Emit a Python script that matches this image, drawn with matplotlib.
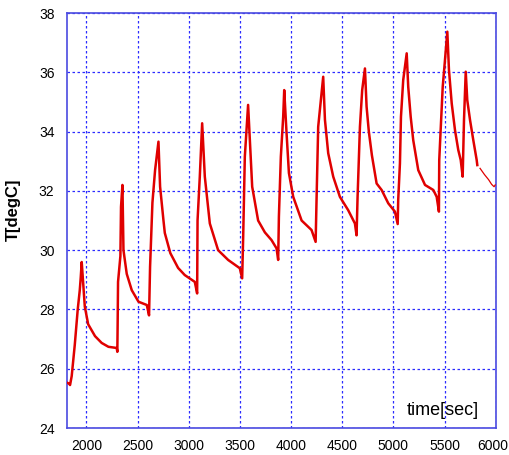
import matplotlib
matplotlib.use("Agg")
import matplotlib.pyplot as plt
import matplotlib.transforms as mtransforms

# temperature trace (time in sec, T in degC)
time_sec = [1810, 1830, 1840, 1856, 1886, 1915, 1935, 1944, 1954, 1962, 1984, 2017,
            2084, 2149, 2215, 2296, 2302,
            2305, 2309, 2332, 2338, 2352, 2362, 2394, 2443, 2509, 2590, 2612,
            2622, 2645, 2671, 2704, 2720, 2753, 2766, 2820, 2896, 2961, 3059, 3082,
            3086, 3108, 3131, 3157, 3206, 3287, 3385, 3499, 3522,
            3532, 3548, 3580, 3620, 3678, 3744, 3809, 3858, 3874,
            3881, 3900, 3923, 3933, 3956, 3979, 4021, 4103, 4200, 4240,
            4249, 4265, 4314, 4331, 4363, 4412, 4477, 4558, 4624, 4640,
            4650, 4673, 4695, 4722, 4738, 4760, 4790, 4803, 4836, 4885, 4950, 5015, 5042,
            5047, 5064, 5074, 5096, 5130, 5145, 5169, 5194, 5243, 5309, 5390, 5423, 5445,
            5448, 5465, 5482, 5504, 5527, 5543, 5570, 5602, 5634, 5658, 5677,
            5690, 5707, 5722, 5749, 5781, 5814, 5820]
temp_degc = [25.53, 25.50, 25.45, 25.75, 26.80, 28.00, 28.65, 29.06, 29.60, 29.20, 28.10, 27.50,
             27.10, 26.87, 26.74, 26.70, 26.57,
             27.47, 28.93, 29.80, 31.46, 32.20, 30.00, 29.20, 28.65, 28.26, 28.15, 27.80,
             29.44, 31.60, 32.70, 33.66, 32.14, 31.00, 30.58, 29.90, 29.40, 29.16, 28.93, 28.54,
             31.00, 32.48, 34.28, 32.48, 30.90, 30.00, 29.67, 29.39, 29.05,
             30.45, 33.15, 34.90, 32.14, 31.00, 30.60, 30.34, 30.06, 29.67,
             31.13, 33.15, 34.50, 35.40, 33.94, 32.60, 31.80, 31.00, 30.68, 30.28,
             31.70, 34.16, 35.85, 34.40, 33.27, 32.48, 31.80, 31.35, 30.90, 30.50,
             31.80, 34.16, 35.40, 36.13, 34.84, 34.00, 33.20, 32.93, 32.25, 32.03, 31.58, 31.30, 30.88,
             31.69, 32.93, 34.50, 35.74, 36.64, 35.51, 34.50, 33.71, 32.70, 32.20, 32.03, 31.80, 31.30,
             33.04, 34.28, 35.51, 36.41, 37.37, 36.08, 34.95, 34.05, 33.38, 33.04, 32.48,
             34.39, 36.02, 35.06, 34.39, 33.71, 33.04, 32.87]

# thin tail at the end of the record
tail_time = [5847, 5890, 5930, 5960, 5984, 5995]
tail_temp = [32.76, 32.55, 32.38, 32.22, 32.14, 32.20]

x_ticks = [2000, 2500, 3000, 3500, 4000, 4500, 5000, 5500, 6000]
y_ticks = [24, 26, 28, 30, 32, 34, 36, 38]

plt.rcParams['font.family'] = ['Liberation Sans', 'DejaVu Sans']

fig = plt.figure(figsize=(5.09, 4.55), dpi=100)
ax = fig.add_axes([0.1316, 0.0593, 0.8423, 0.9121])

ax.plot(time_sec, temp_degc, color='#e00000', lw=1.8, zorder=3)
ax.plot(tail_time, tail_temp, color='#e00000', lw=0.9, zorder=3)

ax.set_xlim(1810, 6000)
ax.set_ylim(24, 38)
ax.set_xticks(x_ticks)
ax.set_yticks(y_ticks)
ax.tick_params(length=0, labelsize=10, colors='black')
ax.tick_params(axis='x', pad=8)
ax.tick_params(axis='y', pad=9)

# last x label sits right at the figure edge, nudge it in a little
last = ax.get_xticklabels()[-1]
last.set_transform(last.get_transform() +
                   mtransforms.ScaledTranslation(-3 / 100, 0, fig.dpi_scale_trans))

ax.grid(True, color='#2b2bff', linestyle=(0, (2, 2)), linewidth=0.9)
for s in ax.spines.values():
    s.set_color('#4a4ae0')
    s.set_linewidth(1.2)

ax.set_ylabel('T[degC]', fontsize=12, fontweight='semibold')
ax.yaxis.set_label_coords(-0.107, 0.525)
ax.text(0.877, 0.043, 'time[sec]', transform=ax.transAxes, fontsize=13,
        ha='center', va='center')

fig.savefig('out.png', dpi=100)
